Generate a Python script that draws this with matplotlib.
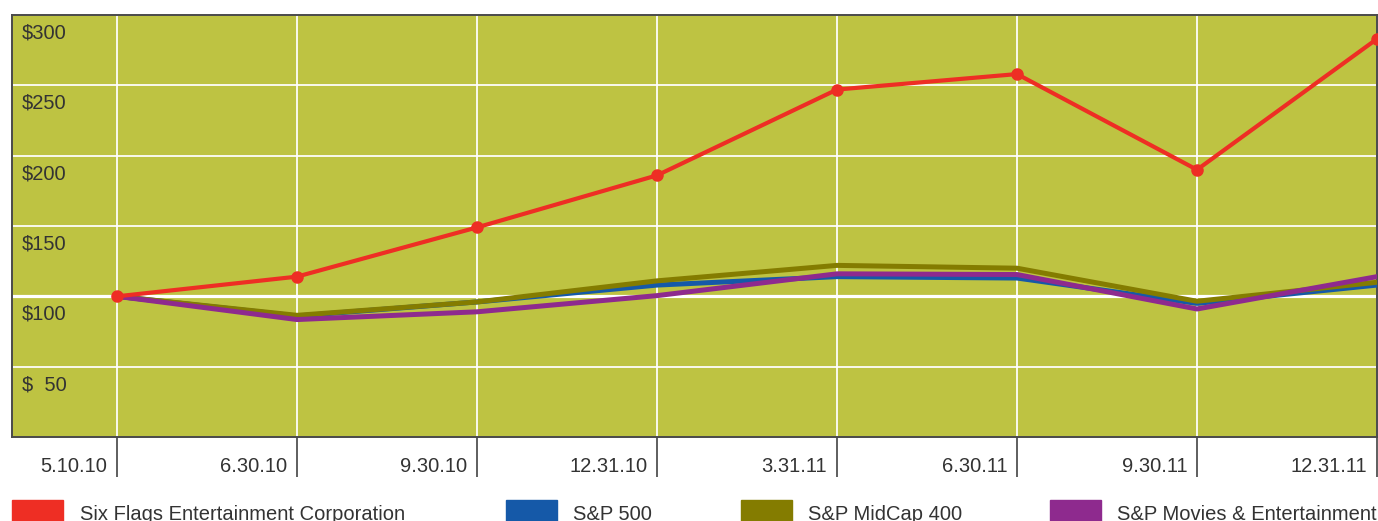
import matplotlib.pyplot as plt

plt.rcParams['font.family'] = ['Liberation Sans', 'DejaVu Sans']

dates = ['5.10.10', '6.30.10', '9.30.10', '12.31.10', '3.31.11', '6.30.11', '9.30.11', '12.31.11']
six_flags = [100, 114, 149, 186, 247, 258, 190, 283]
sp500 = [100, 86, 96, 108, 114, 113, 95, 108]
midcap = [100, 86.5, 96, 111, 122, 120, 96.5, 110]
movies = [100, 83.5, 89, 100.5, 116, 115.5, 91, 114]

y_ticks = [300, 250, 200, 150, 100, 50]
y_labels = ['$300', '$250', '$200', '$150', '$100', '$  50']

bg = '#bec342'
text_col = '#333333'
red = '#ee2e24'
blue = '#1559a8'
olive = '#847c00'
purple = '#8e2a8e'

fig = plt.figure(figsize=(13.78, 5.21), dpi=100)
fig.patch.set_facecolor('white')
ax = fig.add_axes([12 / 1378, 84 / 521, 1365 / 1378, 422 / 521])
ax.set_facecolor(bg)

x = list(range(len(dates)))
ax.set_xlim(-105 / 180, 7)
ax.set_ylim(0, 300)

# grid
for v in [50, 150, 200, 250]:
    ax.axhline(v, color='white', lw=1.4, alpha=0.9, zorder=1)
ax.axhline(100, color='white', lw=2.3, zorder=1)
for xi in x:
    ax.axvline(xi, color='white', lw=1.4, alpha=0.9, zorder=1)

ax.plot(x, sp500, color=blue, lw=3.6, zorder=3)
ax.plot(x, midcap, color=olive, lw=3.6, zorder=4)
ax.plot(x, movies, color=purple, lw=3.6, zorder=5)
ax.plot(x, six_flags, color=red, lw=3.0, marker='o', markersize=8, zorder=6)

for s in ax.spines.values():
    s.set_color('#4a4a4a')
    s.set_linewidth(1.4)

ax.set_xticks(x)
ax.set_xticklabels([])
ax.set_yticks([])
ax.tick_params(axis='x', direction='out', length=29, width=1.1, color='#333333')

for xi, lab in zip(x, dates):
    ax.annotate(lab, xy=(xi, 0), xycoords=('data', 'axes fraction'),
                xytext=(-7, -21.5), textcoords='offset points',
                ha='right', va='center', fontsize=14.5, color=text_col)

for v, lab in zip(y_ticks, y_labels):
    ax.annotate(lab, xy=(0, v), xycoords=('axes fraction', 'data'),
                xytext=(7.2, -13), textcoords='offset points',
                ha='left', va='center', fontsize=14.5, color=text_col)

# legend along the bottom
legend_items = [
    ('Six Flags Entertainment Corporation', red, 12, 80),
    ('S&P 500', blue, 506, 573),
    ('S&P MidCap 400', olive, 741, 808),
    ('S&P Movies & Entertainment', purple, 1050, 1117),
]
W, H = 1378, 521
for lab, col, rx, tx in legend_items:
    fig.patches.append(plt.Rectangle((rx / W, 0), 51 / W, 21 / H, color=col,
                                     transform=fig.transFigure, figure=fig))
    fig.text(tx / W, 1.5 / H, lab, fontsize=14.5, color=text_col,
             ha='left', va='baseline')

fig.savefig('out.png', dpi=100, facecolor='white')
